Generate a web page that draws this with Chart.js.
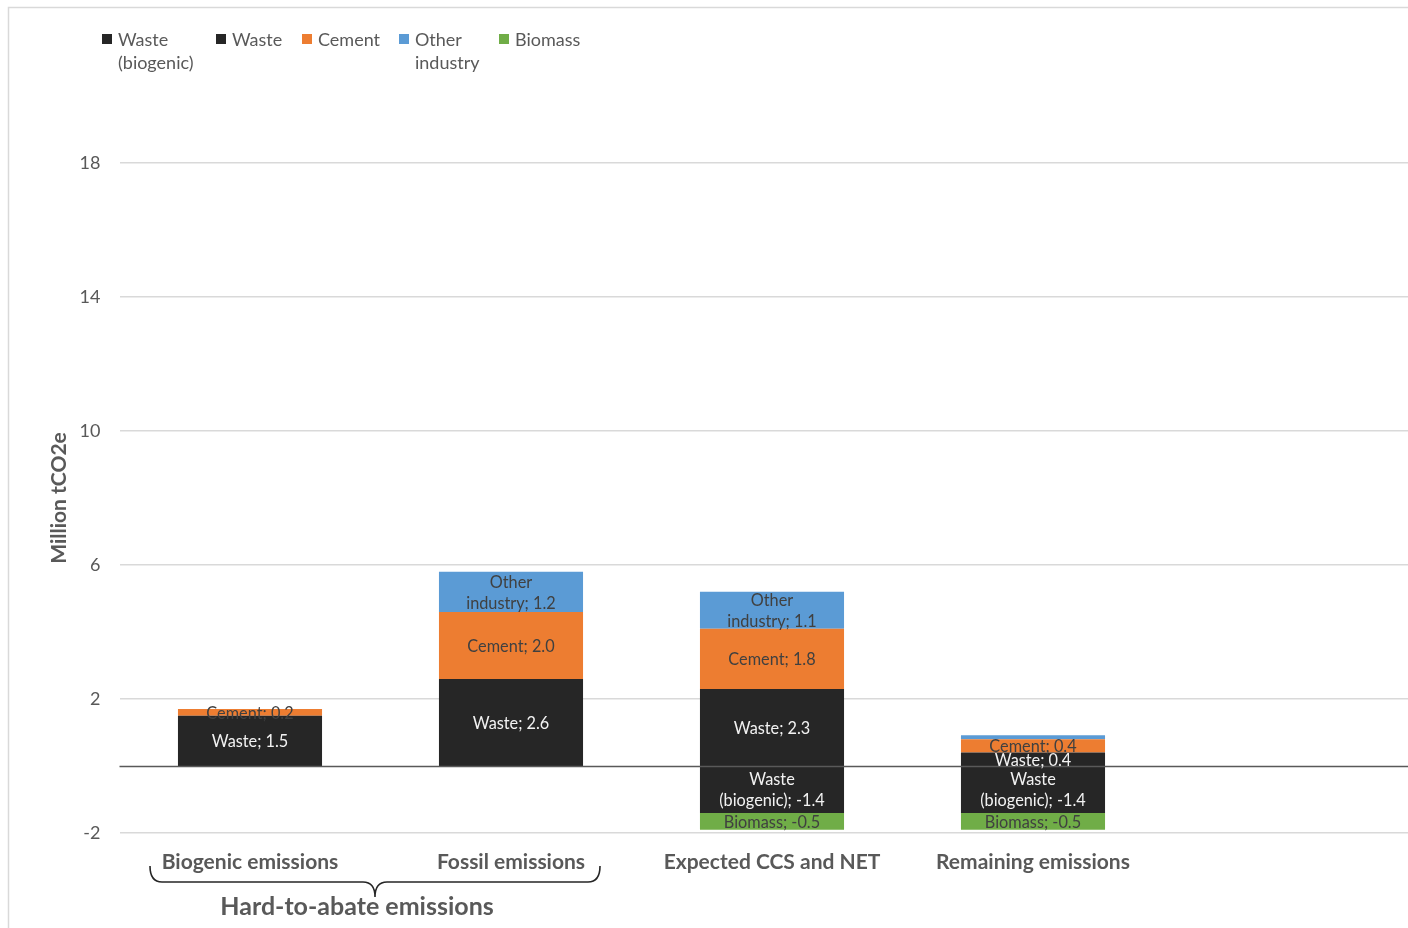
<!DOCTYPE html>
<html>
<head>
<meta charset="utf-8">
<title>Hard-to-abate emissions</title>
<script src="https://cdn.jsdelivr.net/npm/chart.js@4.4.1/dist/chart.umd.min.js"></script>
<style>
    body { margin: 0; background: #fff; overflow: hidden; }
    canvas { display: block; }
</style>
</head>
<body>
<canvas id="chart" width="1440" height="928"></canvas>
<script>
// data
const categories = ['Biogenic emissions', 'Fossil emissions', 'Expected CCS and NET', 'Remaining emissions', ''];
const wasteBiogenic = [null, null, -1.4, -1.4, null];
const waste = [1.5, 2.6, 2.3, 0.4, null];
const cement = [0.2, 2.0, 1.8, 0.4, null];
const otherIndustry = [null, 1.2, 1.1, 0.12, null];
const biomass = [null, null, -0.5, -0.5, null];

const seriesNames = [['Waste', '(biogenic)'], ['Waste'], ['Cement'], ['Other', 'industry'], ['Biomass']];
const seriesColors = ['#262626', '#262626', '#ED7D31', '#5B9BD5', '#70AD47'];
const yTicks = [-2, 2, 6, 10, 14, 18];

const groupLabel = 'Hard-to-abate emissions';
const grey = '#595959';
const fontFamily = 'Lato, "Open Sans", sans-serif';

// frame + white background
const framePlugin = {
    id: 'frame',
    beforeDraw(chart) {
        const ctx = chart.ctx;
        ctx.save();
        ctx.fillStyle = '#fff';
        ctx.fillRect(0, 0, chart.width, chart.height);
        ctx.strokeStyle = '#d9d9d9';
        ctx.lineWidth = 1.5;
        ctx.beginPath();
        ctx.moveTo(8.5, chart.height + 2);
        ctx.lineTo(8.5, 7.5);
        ctx.lineTo(chart.width + 2, 7.5);
        ctx.stroke();
        ctx.restore();
    }
};

// legend with two-line labels
const legendPlugin = {
    id: 'ownLegend',
    afterDraw(chart) {
        const ctx = chart.ctx;
        const boxX = [102, 216, 302, 399, 499];
        ctx.save();
        ctx.font = '18px ' + fontFamily;
        ctx.textBaseline = 'middle';
        ctx.textAlign = 'left';
        seriesNames.forEach((lines, i) => {
            ctx.fillStyle = seriesColors[i];
            ctx.fillRect(boxX[i], 34, 10, 10);
            ctx.fillStyle = grey;
            lines.forEach((line, j) => {
                ctx.fillText(line, boxX[i] + 16, 40 + j * 23);
            });
        });
        ctx.restore();
    }
};

// zero line, bar labels, bracket under first two categories
const extrasPlugin = {
    id: 'extras',
    afterDatasetsDraw(chart) {
        const ctx = chart.ctx;
        const { x, y } = chart.scales;
        const area = chart.chartArea;
        ctx.save();

        // zero line
        const y0 = Math.round(y.getPixelForValue(0)) + 0.5;
        ctx.strokeStyle = grey;
        ctx.lineWidth = 1.5;
        ctx.beginPath();
        ctx.moveTo(area.left, y0);
        ctx.lineTo(area.right, y0);
        ctx.stroke();

        // labels inside segments
        ctx.font = '16.3px ' + fontFamily;
        ctx.textAlign = 'center';
        ctx.textBaseline = 'middle';
        chart.data.datasets.forEach((ds, di) => {
            const meta = chart.getDatasetMeta(di);
            meta.data.forEach((bar, i) => {
                const v = ds.data[i];
                if (v === null || Math.abs(v) < 0.15) return;
                const names = seriesNames[di];
                const lines = names.slice(0, -1);
                lines.push(names[names.length - 1] + '; ' + v.toFixed(1));
                const midY = (bar.y + bar.base) / 2;
                const lh = 21;
                ctx.fillStyle = seriesColors[di] === '#262626' ? '#f2f2f2' : '#404040';
                lines.forEach((line, j) => {
                    ctx.fillText(line, bar.x, midY + 1 + (j - (lines.length - 1) / 2) * lh);
                });
            });
        });
        ctx.restore();
    },
    afterDraw(chart) {
        const ctx = chart.ctx;
        const x = chart.scales.x;
        const start = x.getPixelForValue(0) - 100;
        const end = x.getPixelForValue(1) + 89;
        const mid = (start + end) / 2;
        const top = 866, line = 882, tip = 897;

        ctx.save();
        ctx.strokeStyle = '#262626';
        ctx.lineWidth = 1.6;
        ctx.beginPath();
        ctx.moveTo(start, top);
        ctx.quadraticCurveTo(start, line, start + 12, line);
        ctx.lineTo(mid - 12, line);
        ctx.quadraticCurveTo(mid, line, mid, tip);
        ctx.quadraticCurveTo(mid, line, mid + 12, line);
        ctx.lineTo(end - 12, line);
        ctx.quadraticCurveTo(end, line, end, top);
        ctx.stroke();

        ctx.fillStyle = grey;
        ctx.font = 'bold 25px ' + fontFamily;
        ctx.textAlign = 'center';
        ctx.textBaseline = 'middle';
        ctx.fillText(groupLabel, mid - 18, 907);
        ctx.restore();
    }
};

const makeSet = (i, values) => ({
    label: seriesNames[i].join(' '),
    data: values,
    backgroundColor: seriesColors[i],
    borderWidth: 0,
    stack: 'all'
});

const ctx = document.getElementById('chart');

new Chart(ctx, {
    type: 'bar',
    data: {
        labels: categories,
        datasets: [
            makeSet(0, wasteBiogenic),
            makeSet(1, waste),
            makeSet(2, cement),
            makeSet(3, otherIndustry),
            makeSet(4, biomass)
        ]
    },
    options: {
        responsive: false,
        animation: false,
        barPercentage: 0.552,
        categoryPercentage: 1,
        layout: {
            padding: { left: 0, top: 163, right: 15.5, bottom: 0 }
        },
        plugins: {
            legend: { display: false },
            tooltip: { enabled: false }
        },
        scales: {
            x: {
                stacked: true,
                grid: { display: false },
                border: { display: false },
                ticks: {
                    color: grey,
                    padding: 9,
                    maxRotation: 0,
                    autoSkip: false,
                    font: { family: fontFamily, size: 21, weight: 'bold' }
                },
                afterFit: s => { s.height = 95; }
            },
            y: {
                stacked: true,
                min: -2,
                max: 18,
                afterBuildTicks: s => { s.ticks = yTicks.map(v => ({ value: v })); },
                grid: { color: '#d9d9d9', lineWidth: 1.5, drawTicks: false },
                border: { display: false },
                ticks: {
                    color: grey,
                    padding: 19,
                    font: { family: fontFamily, size: 18 }
                },
                title: {
                    display: true,
                    text: 'Million tCO2e',
                    color: grey,
                    padding: { top: 47, bottom: 0 },
                    font: { family: fontFamily, size: 21, weight: 'bold' }
                },
                afterFit: s => { s.width = 119.5; }
            }
        }
    },
    plugins: [framePlugin, legendPlugin, extrasPlugin]
});
</script>
</body>
</html>
